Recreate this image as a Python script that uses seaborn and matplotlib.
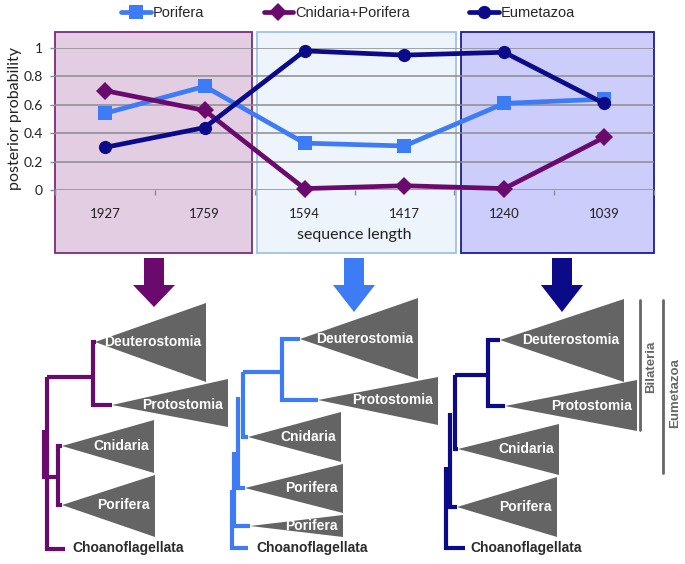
import numpy as np
import pandas as pd
import seaborn as sns
import matplotlib.pyplot as plt
from matplotlib.patches import Rectangle, Polygon

# ================================
# Date grafic
# ================================
lungimi = ['1927', '1759', '1594', '1417', '1240', '1039']
serii = ['Porifera', 'Cnidaria+Porifera', 'Eumetazoa']
porifera = [0.54, 0.73, 0.33, 0.31, 0.61, 0.64]
cnidaria_porifera = [0.70, 0.56, 0.01, 0.03, 0.01, 0.37]
eumetazoa = [0.30, 0.44, 0.98, 0.95, 0.97, 0.61]
yticks = [0, 0.2, 0.4, 0.6, 0.8, 1]
ytick_labels = ['0', '0.2', '0.4', '0.6', '0.8', '1']

c_por = '#3d7cf5'
c_cni = '#6b0a6e'
c_eum = '#0b0b8a'
culori = {'Porifera': c_por, 'Cnidaria+Porifera': c_cni, 'Eumetazoa': c_eum}
markere = {'Porifera': 's', 'Cnidaria+Porifera': 'D', 'Eumetazoa': 'o'}

df = pd.DataFrame({
    'lungime': lungimi * 3,
    'prob': porifera + cnidaria_porifera + eumetazoa,
    'serie': np.repeat(serii, len(lungimi)),
})

sns.set_theme(style='white')
plt.rcParams['font.family'] = ['Lato', 'DejaVu Sans']
ARIAL = ['Liberation Sans', 'DejaVu Sans']

W, H = 685, 564
fig = plt.figure(figsize=(W / 100, H / 100), dpi=100)

# fundal in pixeli (casete, sageti, arbori)
bg = fig.add_axes([0, 0, 1, 1], zorder=0)
bg.set_xlim(0, W)
bg.set_ylim(H, 0)
bg.axis('off')

# casetele colorate din spatele graficului
casete = [(55, 252, '#e3cde3', '#7d2a7d'),
          (257, 456, '#eef4fb', '#9ec3e6'),
          (461, 654, '#cdcdfb', '#1c1c96')]
for x0, x1, fc, ec in casete:
    bg.add_patch(Rectangle((x0, 32), x1 - x0, 221, facecolor=fc, edgecolor=ec, lw=1.3))

# ================================
# Grafic liniar
# ================================
top, bottom = 48, 190
ax = fig.add_axes([55 / W, 1 - bottom / H, 599 / W, (bottom - top) / H], zorder=1)
ax.patch.set_alpha(0)

sns.lineplot(data=df, x='lungime', y='prob', hue='serie', style='serie',
             hue_order=serii, style_order=serii, palette=culori, markers=markere,
             dashes=False, linewidth=3.4, markersize=9.5, markeredgewidth=0,
             clip_on=False, ax=ax)

ax.set_xlim(-0.5, 5.5)
ax.set_ylim(0, 1)
ax.set_yticks(yticks)
ax.set_yticklabels(ytick_labels)
ax.set_xticks(range(len(lungimi)))
ax.set_xticklabels(lungimi)
ax.set_xticks(np.arange(-0.5, 6, 1), minor=True)
for s in ax.spines.values():
    s.set_visible(False)
ax.grid(axis='y', color='#8c8c8c', lw=1.1)
ax.grid(axis='x', visible=False)
ax.tick_params(axis='x', which='major', length=0, pad=13, labelsize=9.5, labelcolor='#222222')
ax.tick_params(axis='x', which='minor', length=3.5, width=1, color='#8c8c8c', direction='out', bottom=True)
ax.tick_params(axis='y', length=3.6, width=1, color='#8c8c8c', pad=5, labelsize=10,
               labelcolor='#222222', left=True)
ax.set_xlabel('sequence length', fontsize=11.5, color='#222222')
ax.xaxis.set_label_coords(0.5, -0.27)
ax.set_ylabel('posterior probability', fontsize=11.5, color='#222222')
ax.yaxis.set_label_coords(-0.055, 0.5)

sns.move_legend(ax, 'center left', bbox_to_anchor=(121 / W, 1 - 13 / H),
                bbox_transform=fig.transFigure, ncol=3, title=None, frameon=False,
                handlelength=2.05, handletextpad=0.1, columnspacing=4.1,
                borderpad=0, borderaxespad=0, prop={'family': ARIAL, 'size': 10.5})

# ================================
# Sageti si arbori
# ================================
sageti = [(154, 307, c_cni), (354, 312, c_por), (562, 312, c_eum)]
for cx, tip, col in sageti:
    pts = [(cx - 10, 258), (cx + 10, 258), (cx + 10, 285), (cx + 21, 285),
           (cx, tip), (cx - 21, 285), (cx - 10, 285)]
    bg.add_patch(Polygon(pts, closed=True, facecolor=col, edgecolor='none'))

# (eticheta, varf_x, varf_y, dreapta_x, sus_y, jos_y)
clade_p = [('Deuterostomia', 95, 342, 206, 303, 382),
           ('Protostomia', 112, 405, 228, 379, 427),
           ('Cnidaria', 62, 446, 154, 420, 473),
           ('Porifera', 62, 505, 155, 475, 537)]
ramuri_p = [[(96, 342), (93, 342), (93, 405), (112, 405)],
            [(47, 377), (93, 377)],
            [(47, 377), (47, 549), (65, 549)],
            [(44, 430), (44, 477), (58, 477)],
            [(62, 446), (58, 446), (58, 505), (62, 505)]]

clade_b = [('Deuterostomia', 300, 339, 418, 298, 379),
           ('Protostomia', 318, 400, 438, 377, 425),
           ('Cnidaria', 248, 437, 341, 412, 462),
           ('Porifera', 245, 488, 343, 464, 513),
           ('Porifera', 250, 526, 343, 515, 537)]
ramuri_b = [[(300, 339), (282, 339), (282, 400), (318, 400)],
            [(243, 372), (282, 372)],
            [(243, 372), (243, 437), (248, 437)],
            [(238, 397), (238, 488), (245, 488)],
            [(234, 452), (234, 526), (250, 526)],
            [(232, 490), (232, 548), (248, 548)]]

clade_n = [('Deuterostomia', 500, 340, 624, 299, 382),
           ('Protostomia', 505, 406, 637, 380, 431),
           ('Cnidaria', 458, 449, 559, 424, 475),
           ('Porifera', 457, 507, 557, 477, 537)]
ramuri_n = [[(500, 340), (488, 340), (488, 406), (505, 406)],
            [(455, 375), (488, 375)],
            [(455, 375), (455, 449), (458, 449)],
            [(450, 413), (450, 507), (457, 507)],
            [(446, 467), (446, 548), (465, 548)]]

arbori = [(clade_p, ramuri_p, c_cni, 72), (clade_b, ramuri_b, c_por, 256),
          (clade_n, ramuri_n, c_eum, 470)]
for clade, ramuri, col, choano_x in arbori:
    for lbl, ax_, ay, rx, ty, by in clade:
        bg.add_patch(Polygon([(ax_, ay), (rx, ty), (rx, by)], closed=True,
                             facecolor='#646464', edgecolor='none'))
        bg.text(rx - 5, ay, lbl, ha='right', va='center', color='white',
                fontsize=10, fontweight='bold', family=ARIAL)
    for r in ramuri:
        xs, ys = zip(*r)
        bg.plot(xs, ys, color=col, lw=3, solid_capstyle='butt', solid_joinstyle='miter')
    bg.text(choano_x, 548, 'Choanoflagellata', ha='left', va='center', color='#2a2a2a',
            fontsize=10, fontweight='bold', family=ARIAL)

# bare Bilateria / Eumetazoa
bg.plot([640, 640], [300, 430], color='#666666', lw=2)
bg.plot([663, 663], [300, 473], color='#666666', lw=2)
bg.text(651, 367, 'Bilateria', rotation=90, ha='center', va='center', color='#666666',
        fontsize=9.5, fontweight='bold', family=ARIAL)
bg.text(675, 393, 'Eumetazoa', rotation=90, ha='center', va='center', color='#666666',
        fontsize=9.5, fontweight='bold', family=ARIAL)

plt.savefig('out.png', dpi=100)
